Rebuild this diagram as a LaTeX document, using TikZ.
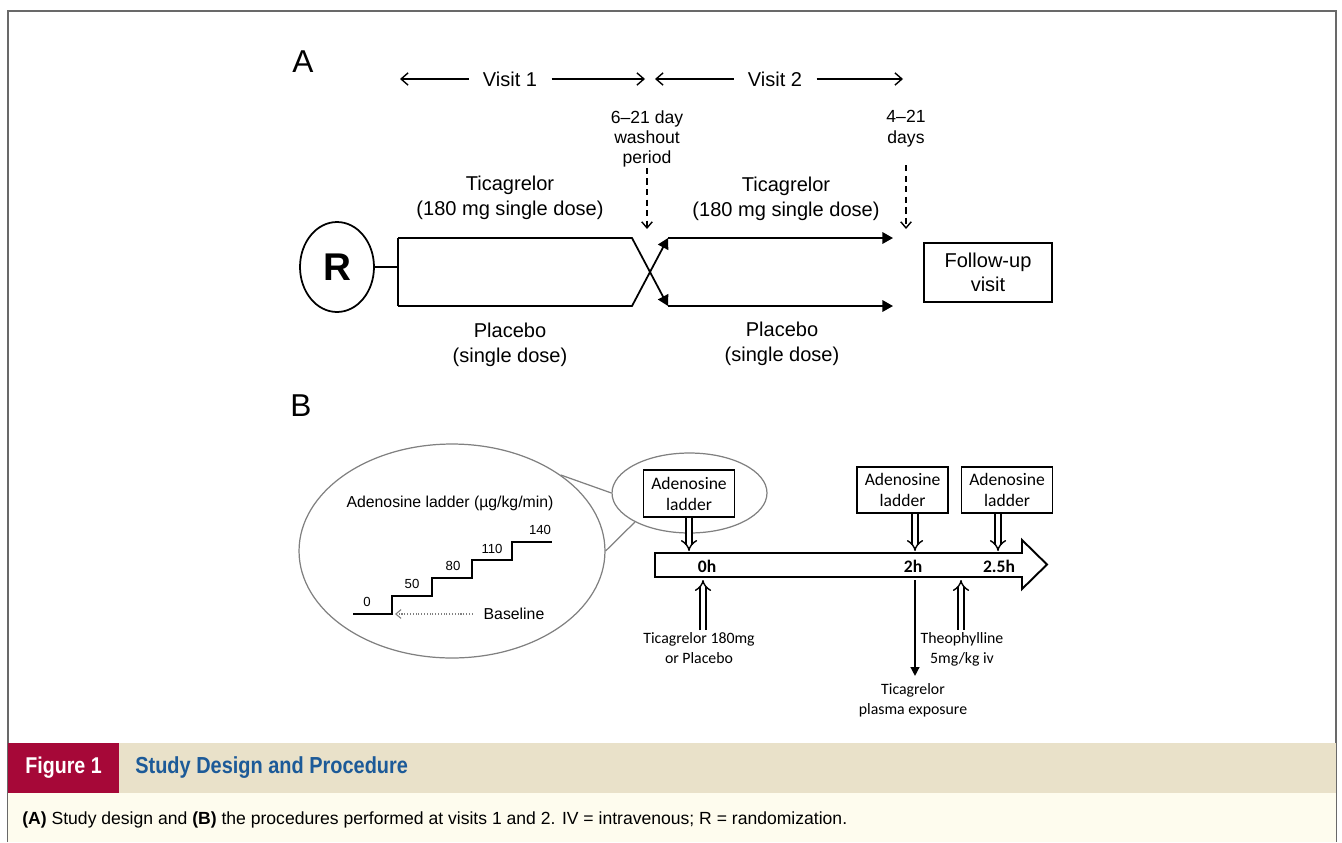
\documentclass[tikz,border=0pt]{standalone}
\usepackage{fontspec}
\setmainfont{Liberation Sans}
\newfontfamily\calfont{Carlito}
\newfontfamily\capfont[FakeStretch=0.86]{Liberation Sans}
\usetikzlibrary{arrows.meta,shapes.geometric}
\definecolor{capred}{RGB}{166,8,56}
\definecolor{captan}{RGB}{233,225,201}
\definecolor{capcream}{RGB}{254,252,238}
\definecolor{capblue}{RGB}{28,90,152}
\definecolor{framegray}{RGB}{105,105,105}

\begin{document}
\begin{tikzpicture}[x = 0.02cm, y = -0.02cm,
	every node/.style = {inner sep = 0pt, align = center, font = \fontsize{11.4}{14}\selectfont},
	line/.style = {line width = 1pt},
	tip/.style = {line, -{Triangle[length = 6pt, width = 6.5pt]}},
	barb/.style = {line width = 0.8pt, -{Straight Barb[length = 4pt, width = 7pt]}},
	dasharr/.style = {line width = 0.8pt, dash pattern = on 3.5pt off 2.5pt, -{Straight Barb[length = 3.5pt, width = 6pt]}},
	box/.style = {draw, line, minimum width = 1.82cm, minimum height = 0.93cm, font = \calfont\fontsize{10}{12}\selectfont},
	hollow/.style = {double, double distance = 2.4pt, line width = 0.8pt, -{Implies[length = 4pt, width = 9pt]}},
	small/.style = {font = \calfont\fontsize{9}{11.3}\selectfont},
	zoomed/.style = {draw = gray, line width = 0.7pt, ellipse}]
	\useasboundingbox (0, 0) rectangle (1342, 842) ;
	\draw [framegray, line width = 0.8pt] (8, 842) -- (8, 11) -- (1336, 11) -- (1336, 842) ;

	\node [font = \fontsize{18}{18}\selectfont] (A) at (303, 62) {A} ;
	\node [inner xsep = 8pt] (v1) at (510, 79) {Visit 1} ;
	\node [inner xsep = 8pt] (v2) at (775, 79) {Visit 2} ;
	\coordinate (v1l) at (400, 79) ; \coordinate (v1r) at (645, 79) ;
	\coordinate (v2l) at (655, 79) ; \coordinate (v2r) at (903, 79) ;
	\draw [barb] (v1) -- (v1l) ; \draw [barb] (v1) -- (v1r) ;
	\draw [barb] (v2) -- (v2l) ; \draw [barb] (v2) -- (v2r) ;

	\node [font = \fontsize{10}{11.6}\selectfont] (wash) at (647, 139) {6–21 day\\washout\\period} ;
	\node [font = \fontsize{10}{11.8}\selectfont] (days) at (906, 129) {4–21\\days} ;
	\coordinate (washend) at (647, 229) ; \coordinate (daysend) at (906, 229) ;
	\draw [dasharr] (wash) -- (washend) ;
	\draw [dasharr, shorten <= 10pt] (days) -- (daysend) ;

	\node (ticl) at (510, 198) {Ticagrelor\\(180 mg single dose)} ;
	\node (ticr) at (786, 199) {Ticagrelor\\(180 mg single dose)} ;
	\node (plal) at (510, 345) {Placebo\\(single dose)} ;
	\node (plar) at (782, 344) {Placebo\\(single dose)} ;

	\node [draw, line, ellipse, minimum width = 1.48cm, minimum height = 1.8cm,
		font = \bfseries\fontsize{22}{22}\selectfont] (R) at (337, 267) {R} ;
	\node [draw, line, minimum width = 2.56cm, minimum height = 1.18cm] (fu) at (988, 272.5) {Follow-up\\visit} ;
	\coordinate (t0) at (398, 238) ; \coordinate (b0) at (398, 306) ;
	\coordinate (t1) at (632, 238) ; \coordinate (b1) at (632, 306) ;
	\coordinate (t2) at (668, 238) ; \coordinate (b2) at (668, 306) ;
	\coordinate (t3) at (893, 238) ; \coordinate (b3) at (893, 306) ;
	\draw [line] (R) -- (R -| t0) ;
	\draw [line] (t0) -- (b0) ;
	\draw [tip] (t0) -- (t1) -- (b2) ;
	\draw [tip] (b0) -- (b1) -- (t2) ;
	\draw [tip] (t2) -- (t3) ;
	\draw [tip] (b2) -- (b3) ;

	\node [font = \fontsize{18}{18}\selectfont] (B) at (301, 406) {B} ;
	\node [zoomed, minimum width = 6.12cm, minimum height = 4.28cm] (zoom) at (452, 551) {} ;
	\node [zoomed, minimum width = 3.1cm, minimum height = 1.6cm] (zsmall) at (689.5, 493) {} ;
	\draw [gray, line width = 0.7pt] (zoom.35) -- (zsmall.180) ;
	\draw [gray, line width = 0.7pt] (zoom.0) -- (zsmall.208) ;
	\node [font = \fontsize{9}{11}\selectfont] (ladder) at (450, 503) {Adenosine ladder (µg/kg/min)} ;
	\draw [line width = 1.1pt] (353, 614) -- ++(39, 0)
		\foreach \i in {1, ..., 4} { -- ++(0, -18) -- ++(40, 0) } ;
	\foreach \v/\x/\y in {0/367/602, 50/412/584, 80/453/566, 110/492/549, 140/540/530}
		\node [font = \fontsize{7.5}{9}\selectfont] (dose\v) at (\x, \y) {\v} ;
	\node [font = \fontsize{9}{11}\selectfont, inner xsep = 6pt] (base) at (514, 614) {Baseline} ;
	\coordinate (foot) at (395, 614) ;
	\draw [gray, densely dotted, line width = 0.6pt, -{Straight Barb[length = 3pt, width = 5pt]}] (base) -- (foot) ;

	\draw [line width = 1.1pt] (655, 553) -- (1022, 553) -- (1022, 540) -- (1047, 564.5)
		-- (1022, 589) -- (1022, 577) -- (655, 577) -- cycle ;
	\node [font = \calfont\bfseries\fontsize{10}{12}\selectfont] (h0) at (707, 566) {0h} ;
	\node [font = \calfont\bfseries\fontsize{10}{12}\selectfont] (h2) at (913, 566) {2h} ;
	\node [font = \calfont\bfseries\fontsize{10}{12}\selectfont] (h25) at (999, 566) {2.5h} ;

	\node [box] (ad0) at (689, 493.5) {Adenosine\\ladder} ;
	\node [box] (ad2) at (902.5, 490) {Adenosine\\ladder} ;
	\node [box] (ad3) at (1007, 490) {Adenosine\\ladder} ;
	\coordinate (in0) at (689, 551) ; \coordinate (in2) at (915, 551) ; \coordinate (in3) at (998, 551) ;
	\draw [hollow] (ad0.south -| in0) -- (in0) ;
	\draw [hollow] (ad2.south -| in2) -- (in2) ;
	\draw [hollow] (ad3.south -| in3) -- (in3) ;

	\node [small] (tic) at (699, 648) {Ticagrelor 180mg\\or Placebo} ;
	\node [small] (theo) at (962, 649) {Theophylline\\5mg/kg iv} ;
	\node [small] (plasma) at (913, 700) {Ticagrelor\\plasma exposure} ;
	\coordinate (dose) at (703, 580) ; \coordinate (theoin) at (961, 580) ; \coordinate (pk) at (915, 580) ;
	\draw [hollow] (tic.north -| dose) ++(0, -2) -- (dose) ;
	\draw [hollow] (theo.north -| theoin) ++(0, -2) -- (theoin) ;
	\draw [line width = 0.8pt, -{Triangle[length = 5pt, width = 5pt]}, shorten > = 4pt] (pk) -- (pk |- plasma.north) ;

	\fill [captan] (8, 743) rectangle (1336, 793) ;
	\fill [capcream] (8, 793) rectangle (1336, 842) ;
	\fill [capred] (8, 743) rectangle (119, 793) ;
	\node [text = white, font = \capfont\bfseries\fontsize{13}{14}\selectfont] (fig) at (63.5, 768) {Figure 1} ;
	\node [anchor = west, text = capblue, font = \capfont\bfseries\fontsize{13.2}{14}\selectfont] (title) at (135, 768) {Study Design and Procedure} ;
	\node [anchor = west, font = \fontsize{10}{12}\selectfont] (legend) at (22, 820)
		{\textbf{(A)} Study design and \textbf{(B)} the procedures performed at visits 1 and 2. IV = intravenous; R = randomization.} ;
\end{tikzpicture}
\end{document}
